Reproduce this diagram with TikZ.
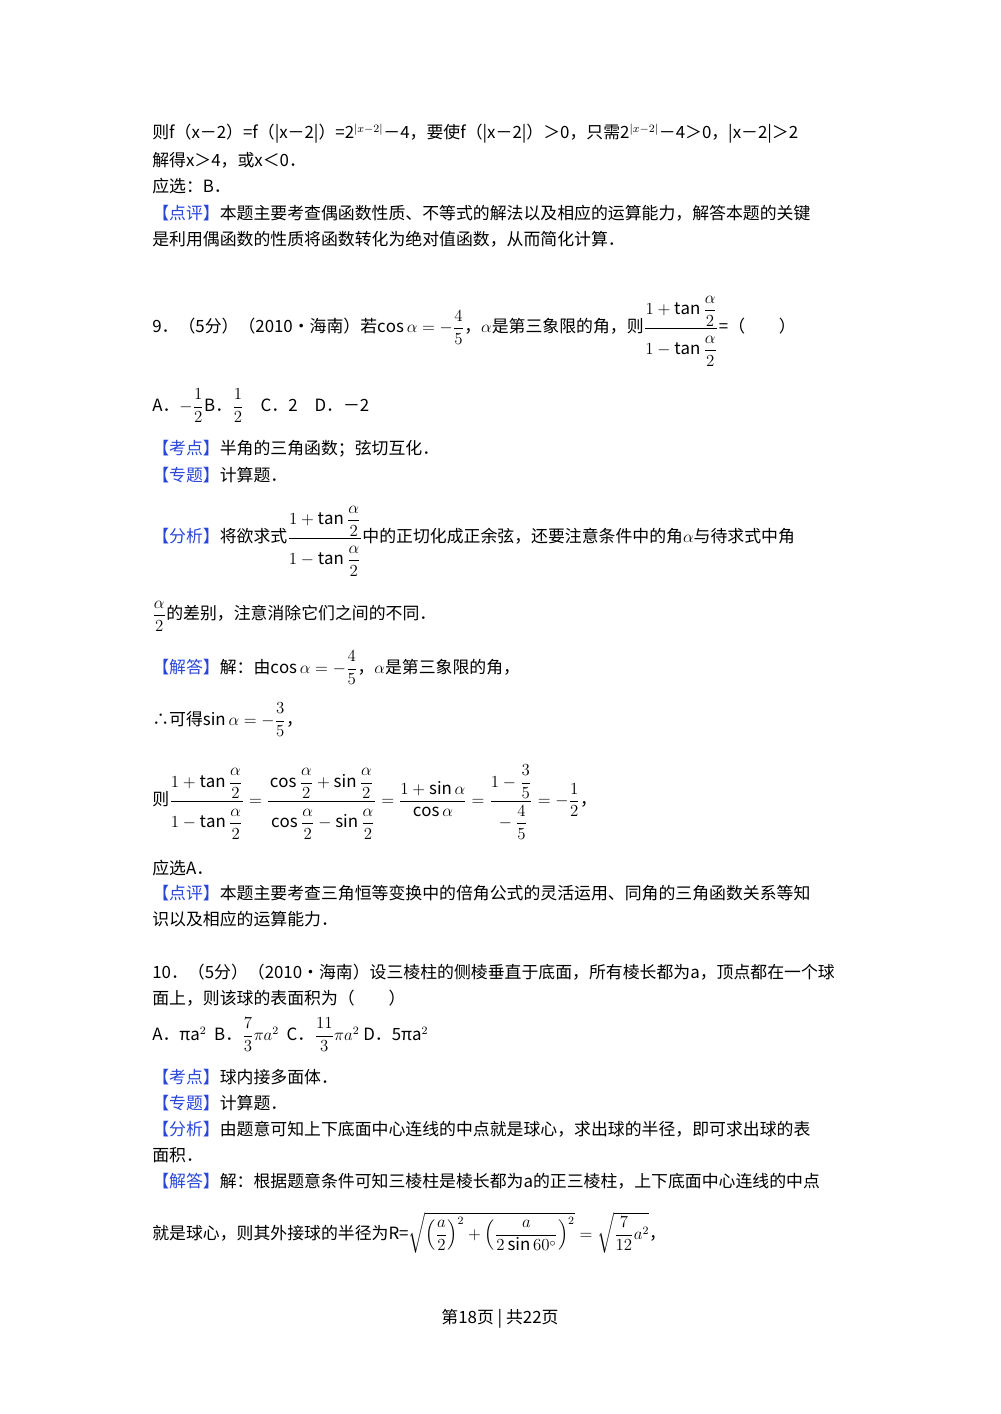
\documentclass[tikz,border=0pt]{standalone}
\usepackage{amsmath}
\usepackage{fontspec}
\setmainfont{Noto Sans CJK SC}
\definecolor{kb}{RGB}{40,70,220}
\newcommand{\kw}[1]{\textcolor{kb}{【#1】}}
\newcommand{\bfr}[2]{\dfrac{#1\rule[-8pt]{0pt}{8pt}}{\rule{0pt}{17pt}#2}}
\begin{document}
\begin{tikzpicture}[x=0.025cm,y=-0.025cm,
  ln/.style={anchor=west,inner sep=0pt,font=\fontsize{12pt}{14pt}\selectfont}]
\useasboundingbox (0,0) rectangle (1000,1414);
\node[ln] (l1) at (152,134) {则f（x－2）=f（|x－2|）=2$^{|x-2|}$－4，要使f（|x－2|）＞0，只需2$^{|x-2|}$－4＞0，|x－2|＞2};
\node[ln] (l2) at (152,160) {解得x＞4，或x＜0．};
\node[ln] (l3) at (152,186) {应选：B．};
\node[ln] (l4) at (152,213) {\kw{点评}本题主要考查偶函数性质、不等式的解法以及相应的运算能力，解答本题的关键};
\node[ln] (l5) at (152,239) {是利用偶函数的性质将函数转化为绝对值函数，从而简化计算．};
\node[ln] (l6) at (152,331) {9．（5分）（2010•海南）若$\cos\alpha=-\dfrac{4}{5}$，$\alpha$是第三象限的角，则$\bfr{1+\tan\dfrac{\alpha}{2}}{1-\tan\dfrac{\alpha}{2}}$=（\qquad）};
\node[ln] (l7) at (152,406) {A．$-\dfrac{1}{2}$B．$\dfrac{1}{2}$\quad C．2\quad D．－2};
\node[ln] (l8) at (152,449) {\kw{考点}半角的三角函数；弦切互化．};
\node[ln] (l9) at (152,475) {\kw{专题}计算题．};
\node[ln] (l10) at (152,541) {\kw{分析}将欲求式$\bfr{1+\tan\dfrac{\alpha}{2}}{1-\tan\dfrac{\alpha}{2}}$中的正切化成正余弦，还要注意条件中的角$\alpha$与待求式中角};
\node[ln] (l11) at (152,616) {$\dfrac{\alpha}{2}$的差别，注意消除它们之间的不同．};
\node[ln] (l12) at (152,668) {\kw{解答}解：由$\cos\alpha=-\dfrac{4}{5}$，$\alpha$是第三象限的角，};
\node[ln] (l13) at (152,720) {∴可得$\sin\alpha=-\dfrac{3}{5}$，};
\node[ln] (l14) at (152,802) {则$\bfr{1+\tan\dfrac{\alpha}{2}}{1-\tan\dfrac{\alpha}{2}}=\bfr{\cos\dfrac{\alpha}{2}+\sin\dfrac{\alpha}{2}}{\cos\dfrac{\alpha}{2}-\sin\dfrac{\alpha}{2}}=\dfrac{1+\sin\alpha}{\cos\alpha}=\bfr{1-\dfrac{3}{5}}{-\dfrac{4}{5}}=-\dfrac{1}{2}$，};
\node[ln] (l15) at (152,868) {应选A．};
\node[ln] (l16) at (152,893) {\kw{点评}本题主要考查三角恒等变换中的倍角公式的灵活运用、同角的三角函数关系等知};
\node[ln] (l17) at (152,919) {识以及相应的运算能力．};
\node[ln] (l18) at (152,972) {10．（5分）（2010•海南）设三棱柱的侧棱垂直于底面，所有棱长都为a，顶点都在一个球};
\node[ln] (l19) at (152,998) {面上，则该球的表面积为（\qquad）};
\node[ln] (l20) at (152,1035) {A．πa$^2$\ \ B．$\dfrac{7}{3}\pi a^2$\ \ C．$\dfrac{11}{3}\pi a^2$\ D．5πa$^2$};
\node[ln] (l21) at (152,1077) {\kw{考点}球内接多面体．};
\node[ln] (l22) at (152,1103) {\kw{专题}计算题．};
\node[ln] (l23) at (152,1129) {\kw{分析}由题意可知上下底面中心连线的中点就是球心，求出球的半径，即可求出球的表};
\node[ln] (l24) at (152,1155) {面积．};
\node[ln] (l25) at (152,1181) {\kw{解答}解：根据题意条件可知三棱柱是棱长都为a的正三棱柱，上下底面中心连线的中点};
\node[ln] (l26) at (152,1233) {就是球心，则其外接球的半径为R=$\sqrt{\left(\dfrac{a}{2}\right)^2+\left(\dfrac{a}{2\sin60^\circ}\right)^2}=\sqrt{\dfrac{7}{12}a^2}$，};
\node[anchor=center,inner sep=0pt,font=\fontsize{12pt}{14pt}\selectfont] (ft) at (500,1319) {第18页 | 共22页};
\end{tikzpicture}
\end{document}
